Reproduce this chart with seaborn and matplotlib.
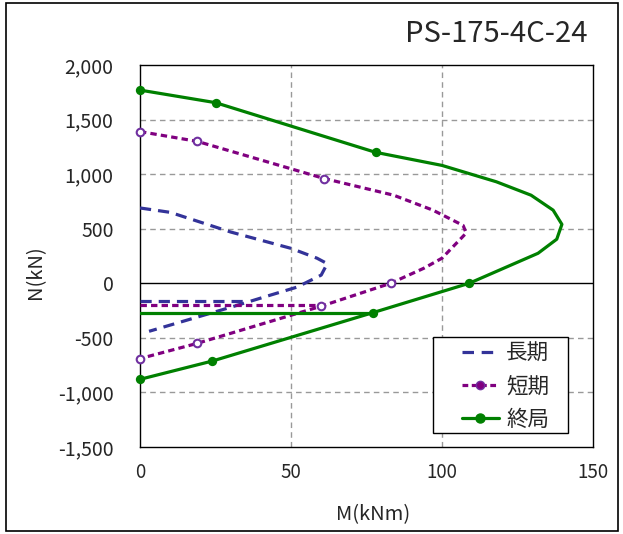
import numpy as np
import pandas as pd
import matplotlib
matplotlib.use("Agg")
import matplotlib.pyplot as plt
from matplotlib.lines import Line2D
from matplotlib.patches import Rectangle
import seaborn as sns

# ---- data ----
series_names = ["長期", "短期", "終局"]

long_M = [0, 10, 30, 50, 58.6, 62, 60, 52, 43, 30, 3]
long_N = [690, 650, 470, 320, 230, 180, 75, -35, -110, -220, -440]
long_cut_M = [0, 36]
long_cut_N = [-165, -165]

short_M = [0, 19, 61, 84, 97, 107, 108, 100, 94, 83, 60, 19, 0]
short_N = [1390, 1300, 960, 807, 670, 530, 460, 230, 138, 0, -210, -550, -690]
short_marks = [0, 1, 2, 9, 10, 11, 12]
short_cut_M = [0, 60]
short_cut_N = [-200, -200]

ult_M = [0, 25, 78, 100, 118, 129.5, 136.8, 139.7, 138, 131.8, 109, 77, 24, 0]
ult_N = [1770, 1655, 1200, 1080, 930, 807, 670, 540, 404, 275, 0, -270, -712, -880]
ult_marks = [0, 1, 2, 10, 11, 12, 13]
ult_cut_M = [0, 77]
ult_cut_N = [-268, -268]

x_ticks = [0, 50, 100, 150]
y_ticks = [-1500, -1000, -500, 0, 500, 1000, 1500, 2000]
y_tick_labels = ["-1,500", "-1,000", "-500", "0", "500", "1,000", "1,500", "2,000"]
title = "PS-175-4C-24"

# ---- style ----
sns.set_theme(style="white")
FONT = ["Noto Sans CJK JP", "DejaVu Sans"]
plt.rcParams["font.family"] = FONT

c_long = "#333399"
c_short = "#800080"
c_ult = "#008000"
long_dash = (3.5, 2.2)
short_dash = (2.0, 1.3)

W, H = 623, 534
fig = plt.figure(figsize=(W / 100, H / 100), dpi=100)
ax = fig.add_axes([140 / W, 1 - 447 / H, 453 / W, 382 / H])

df_long = pd.DataFrame({"M": long_M, "N": long_N})
df_short = pd.DataFrame({"M": short_M, "N": short_N})
df_ult = pd.DataFrame({"M": ult_M, "N": ult_N})

lw = 2.3
# grid
for xv in [50, 100]:
    ax.axvline(xv, color="#999999", lw=1.0, ls=(0, (4, 3)), zorder=0)
for yv in [1500, 1000, 500, -500, -1000]:
    ax.axhline(yv, color="#999999", lw=1.0, ls=(0, (4, 3)), zorder=0)
ax.axhline(0, color="black", lw=1.0, zorder=1)

sns.lineplot(data=df_long, x="M", y="N", sort=False, estimator=None, ax=ax,
             color=c_long, lw=lw, zorder=3)
ax.lines[-1].set_dashes(long_dash)
ax.plot(long_cut_M, long_cut_N, color=c_long, lw=lw, dashes=long_dash, zorder=3)

sns.lineplot(data=df_short, x="M", y="N", sort=False, estimator=None, ax=ax,
             color=c_short, lw=lw, zorder=4)
ax.lines[-1].set_dashes(short_dash)
ax.plot(short_cut_M, short_cut_N, color=c_short, lw=lw, dashes=short_dash, zorder=4)
sns.scatterplot(x=[short_M[i] for i in short_marks], y=[short_N[i] for i in short_marks],
                ax=ax, marker="o", s=30, facecolor="white", edgecolor="#7030A0",
                linewidth=1.5, zorder=6, clip_on=False)

sns.lineplot(data=df_ult, x="M", y="N", sort=False, estimator=None, ax=ax,
             color=c_ult, lw=lw, zorder=5)
ax.plot(ult_cut_M, ult_cut_N, color=c_ult, lw=lw, zorder=5)
sns.scatterplot(x=[ult_M[i] for i in ult_marks], y=[ult_N[i] for i in ult_marks],
                ax=ax, marker="o", s=45, color=c_ult, edgecolor=c_ult,
                linewidth=0, zorder=7, clip_on=False)

ax.set_xlim(0, 150)
ax.set_ylim(-1500, 2000)
ax.set_xticks(x_ticks)
ax.set_xticklabels([str(v) for v in x_ticks], fontsize=13.5)
ax.set_yticks(y_ticks)
ax.set_yticklabels(y_tick_labels, fontsize=14)
ax.tick_params(axis="x", length=0, pad=11)
ax.tick_params(axis="y", length=0, pad=19)
ax.set_xlabel("M(kNm)", fontsize=14.5)
ax.set_ylabel("N(kN)", fontsize=14.5)
ax.xaxis.set_label_coords((373 - 140) / 453, (447 - 504) / 382)
ax.yaxis.set_label_coords((46 - 140) / 453, (447 - 272) / 382)
for s in ax.spines.values():
    s.set_color("black")
    s.set_linewidth(1.0)

# legend frame drawn as a box, entries placed inside
ax.add_patch(Rectangle(((433 - 140) / 453, (447 - 433) / 382), 135 / 453, 96 / 382,
                       transform=ax.transAxes, facecolor="white", edgecolor="black",
                       lw=1.0, zorder=9, clip_on=False))
handles = [
    Line2D([], [], color=c_long, lw=lw, dashes=(3.6, 2.4)),
    Line2D([], [], color=c_short, lw=lw, dashes=(1.8, 1.1), marker="o",
           markersize=6, markerfacecolor=c_short, markeredgecolor="#7030A0"),
    Line2D([], [], color=c_ult, lw=lw, marker="o", markersize=6.5),
]
leg = ax.legend(handles, series_names, loc="upper left",
                bbox_to_anchor=((462 - 140) / 453, (447 - 343) / 382),
                borderaxespad=0, borderpad=0, frameon=False,
                fontsize=15.5, handlelength=1.7, handletextpad=0.35,
                labelspacing=0.5)
leg.set_zorder(10)
for t in leg.get_texts():
    t.set_fontfamily(FONT)

fig.text(496 / W, 1 - 34 / H, title, fontsize=21, ha="center", va="center")

fig.patches.append(Rectangle((6 / W, 3 / H), 612 / W, 528 / H, transform=fig.transFigure,
                             fill=False, edgecolor="black", lw=1.2))

fig.savefig("out.png", dpi=100)
